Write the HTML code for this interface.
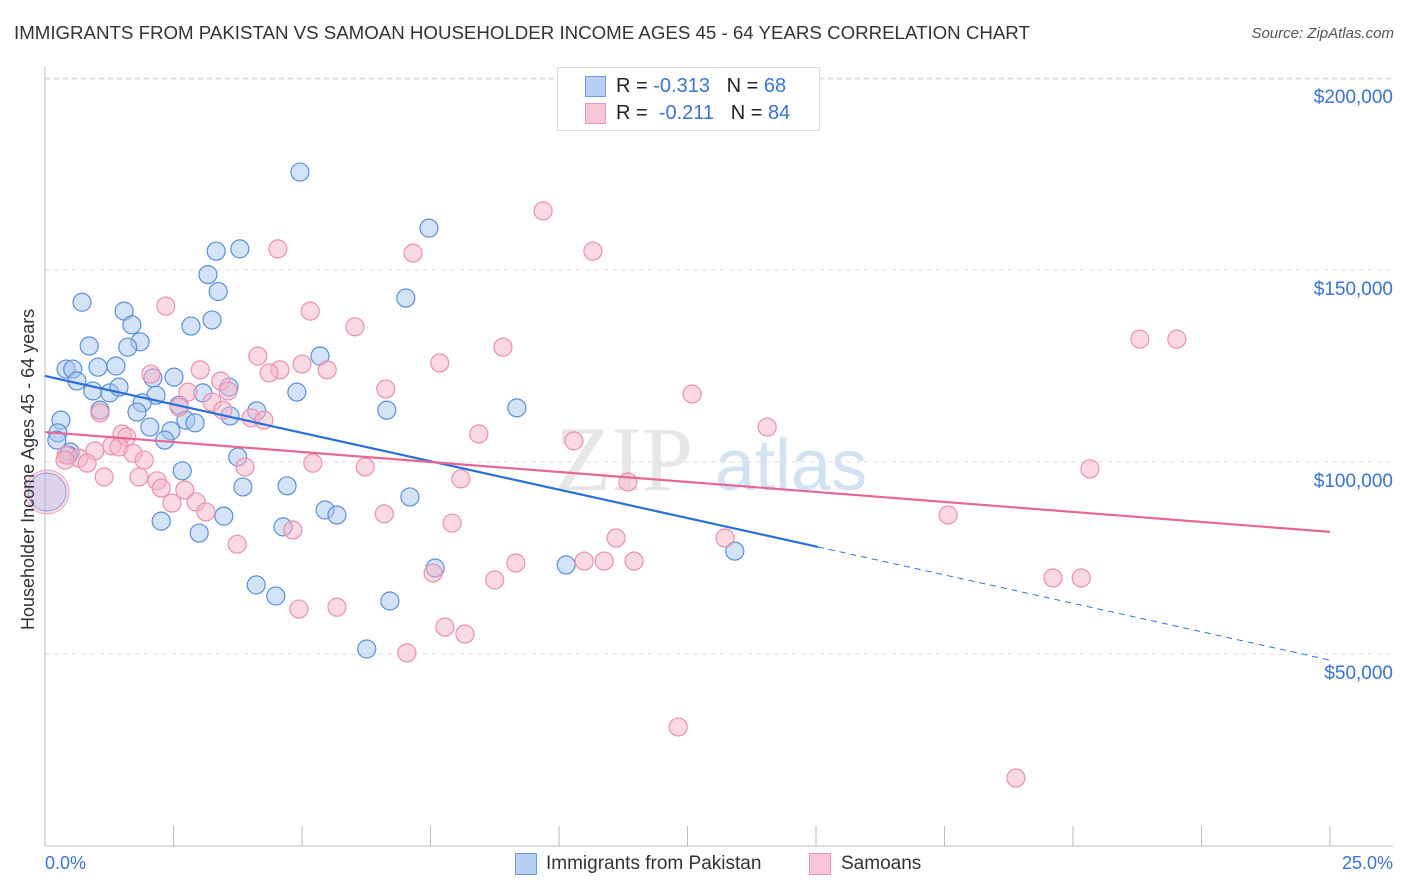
<!DOCTYPE html>
<html><head><meta charset="utf-8"><style>
body{margin:0;background:#fff;font-family:"Liberation Sans",sans-serif;}
#wrap{position:relative;width:1406px;height:892px;overflow:hidden;}
.t{position:absolute;white-space:nowrap;}
</style></head><body><div id="wrap">
<div class="t" style="left:14px;top:22px;font-size:18.7px;color:#333">IMMIGRANTS FROM PAKISTAN VS SAMOAN HOUSEHOLDER INCOME AGES 45 - 64 YEARS CORRELATION CHART</div>
<div class="t" style="right:12px;top:25px;font-size:15px;color:#555;font-style:italic">Source: ZipAtlas.com</div>
<svg id="svg" width="1406" height="892" style="position:absolute;left:0;top:0"></svg>
</div>
<script>
const blueX=[4.96,7.47,3.33,3.79,3.17,3.37,0.72,7.02,1.54,1.69,2.84,3.25,0.86,1.85,1.61,5.35,0.41,0.54,1.03,1.38,0.62,2.10,2.51,0.93,1.26,1.44,2.16,1.89,3.07,3.58,4.90,1.07,1.79,2.61,2.74,2.92,3.60,4.12,6.65,9.18,0.31,0.25,2.04,2.45,2.33,3.75,0.49,2.67,3.85,4.71,7.10,2.26,5.45,5.68,3.48,4.63,3.00,7.59,10.14,13.42,4.11,4.49,6.71,6.26,0.23,0.45];
const blueY=[175.5,160.9,154.9,155.5,148.8,144.4,141.6,142.7,139.3,135.7,135.4,137.0,130.2,131.3,129.9,127.6,124.2,124.2,124.7,125.0,121.1,121.9,122.1,118.5,118.0,119.5,117.4,115.4,118.0,119.5,118.2,113.5,113.0,114.8,110.9,110.2,112.0,113.3,113.5,114.1,110.9,107.6,109.1,108.1,105.7,101.3,102.6,97.7,93.5,93.8,90.9,84.6,87.5,86.2,85.9,83.1,81.5,72.4,73.2,76.8,68.0,65.1,63.8,51.3,105.7,101.8];
const pinkX=[9.69,10.66,4.53,7.16,2.35,5.16,6.03,21.30,22.02,8.91,4.14,7.68,5.00,4.57,5.49,4.36,3.02,2.06,3.42,6.63,3.56,2.78,12.59,3.25,2.61,3.46,1.07,4.01,4.26,14.05,1.50,1.59,8.44,10.29,1.30,1.44,0.97,1.71,0.41,0.66,0.39,0.82,1.93,5.21,6.23,3.89,20.33,1.15,1.83,2.18,8.09,11.34,2.72,2.26,2.94,2.47,3.13,6.60,17.57,7.92,4.82,3.74,11.11,13.23,10.49,10.88,11.46,9.16,7.55,19.61,20.16,8.75,4.94,5.68,7.78,8.17,7.04,12.32,18.89];
const pinkY=[165.4,154.9,155.5,154.4,140.6,139.3,135.2,132.0,132.0,129.9,127.6,125.8,125.5,124.0,124.0,123.2,124.0,122.9,121.1,119.0,118.5,118.2,117.7,115.6,114.3,113.5,112.8,111.5,110.9,109.1,107.3,106.5,107.3,105.5,104.2,103.9,102.9,102.3,101.8,101.0,100.5,99.7,100.5,99.7,98.7,98.7,98.2,96.1,96.1,95.1,95.6,94.8,92.7,93.2,89.6,89.3,87.0,86.5,86.2,84.1,82.3,78.6,80.2,80.2,74.2,74.2,74.2,73.7,71.1,69.8,69.8,69.3,61.7,62.2,57.0,55.2,50.3,31.0,17.7];
const bigPoint=[0.04,92.2];
const blueTrend=[122.4,-2.96];
const blueSolidEnd=15.04;
const pinkTrend=[107.8,-1.04];
const yTicks=[50,100,150,200];
const yTickLabels=["$50,000","$100,000","$150,000","$200,000"];
const xTicks=[0,2.5,5,7.5,10,12.5,15,17.5,20,22.5,25];

const X0=45,X1=1330,YB=846,PX_PER_K=3.84;
const sx=v=>X0+(X1-X0)*v/25;
const sy=v=>YB-v*PX_PER_K;
const svg=document.getElementById('svg');
const NS='http://www.w3.org/2000/svg';
function mk(tag,attrs){const e=document.createElementNS(NS,tag);for(const k in attrs)e.setAttribute(k,attrs[k]);svg.appendChild(e);return e;}

yTicks.forEach((t,i)=>{
  const g=mk('line',{x1:X0,x2:1393,y1:sy(t),y2:sy(t),stroke:'#ddd','stroke-dasharray':'5,4'});
  
  
  const tx=mk('text',{x:1393,y:sy(t)+25,'text-anchor':'end','font-size':19,fill:'#3b72d4'});
  tx.textContent=yTickLabels[i];
  
  
});
const tg=mk('line',{x1:X0,x2:1393,y1:79,y2:79,stroke:'#ddd','stroke-dasharray':'5,4'});


xTicks.forEach(t=>{
  const l=mk('line',{x1:sx(t),x2:sx(t),y1:826,y2:YB,stroke:'#bbb'});
  
  
});
const xa=mk('line',{x1:X0,x2:1393,y1:YB,y2:YB,stroke:'#bbb'});


const ya=mk('line',{x1:X0,x2:X0,y1:67,y2:YB,stroke:'#bbb'});



const wm=mk('text',{x:555,y:490,'font-size':92,fill:'#e6e6e6','font-family':'Liberation Serif'});
wm.textContent='ZIP';


const wm2=mk('text',{x:715,y:490,'font-size':72,fill:'#d3e2f3'});
wm2.textContent='atlas';



const bp=mk('circle',{cx:sx(bigPoint[0]),cy:sy(bigPoint[1]),r:22,fill:'rgba(245,160,190,0.35)',stroke:'rgba(230,120,160,0.6)'});


const bp2=mk('circle',{cx:sx(bigPoint[0]),cy:sy(bigPoint[1]),r:19,fill:'rgba(160,190,235,0.35)',stroke:'rgba(80,130,220,0.6)'});



blueX.forEach((v,i)=>{
  const c=mk('circle',{cx:sx(v),cy:sy(blueY[i]),r:9,fill:'rgba(165,198,240,0.5)',stroke:'#5b8fdb','stroke-width':1.2});
  
  
});
pinkX.forEach((v,i)=>{
  const c=mk('circle',{cx:sx(v),cy:sy(pinkY[i]),r:9,fill:'rgba(247,180,200,0.5)',stroke:'#ec90ae','stroke-width':1.2});
  
  
});
const bt=v=>blueTrend[0]+blueTrend[1]*v;
const pt=v=>pinkTrend[0]+pinkTrend[1]*v;
const l1=mk('line',{x1:sx(0),y1:sy(bt(0)),x2:sx(blueSolidEnd),y2:sy(bt(blueSolidEnd)),stroke:'#2a6fd6','stroke-width':2.2});


const l2=mk('line',{x1:sx(blueSolidEnd),y1:sy(bt(blueSolidEnd)),x2:sx(25),y2:sy(bt(25)),stroke:'#2a6fd6','stroke-width':1,'stroke-dasharray':'6,5'});


const l3=mk('line',{x1:sx(0),y1:sy(pt(0)),x2:sx(25),y2:sy(pt(25)),stroke:'#e4679a','stroke-width':2.2});


</script>
<div class="t" style="left:18px;top:630px;transform:rotate(-90deg);transform-origin:0 0;font-size:18px;color:#333">Householder Income Ages 45 - 64 years</div>
<div class="t" style="left:45px;top:853px;font-size:18px;color:#3b72d4">0.0%</div>
<div class="t" style="right:13px;top:853px;font-size:18px;color:#3b72d4">25.0%</div>
<div style="position:absolute;left:557px;top:67px;width:261px;height:62px;border:1px solid #ddd;background:#fff">
 <div style="position:absolute;left:27px;top:8px;width:19px;height:19px;background:#b7d0f4;border:1px solid #6f9be0"></div>
 <div class="t" style="left:58px;top:7px;font-size:20px;color:#222">R = <span style="color:#3b72d4">-0.313</span>&nbsp;&nbsp;&nbsp;N = <span style="color:#3b72d4">68</span></div>
 <div style="position:absolute;left:27px;top:35px;width:19px;height:19px;background:#f8c6d5;border:1px solid #ee9ab6"></div>
 <div class="t" style="left:58px;top:34px;font-size:20px;color:#222">R = &nbsp;<span style="color:#3b72d4">-0.211</span>&nbsp;&nbsp;&nbsp;N = <span style="color:#3b72d4">84</span></div>
</div>
<div style="position:absolute;left:515px;top:853px;width:20px;height:20px;background:#b7d0f4;border:1px solid #6f9be0"></div>
<div class="t" style="left:546px;top:853px;font-size:19px;color:#333">Immigrants from Pakistan</div>
<div style="position:absolute;left:809px;top:853px;width:20px;height:20px;background:#f8c6d5;border:1px solid #ee9ab6"></div>
<div class="t" style="left:841px;top:853px;font-size:19px;color:#333">Samoans</div>
</body></html>
